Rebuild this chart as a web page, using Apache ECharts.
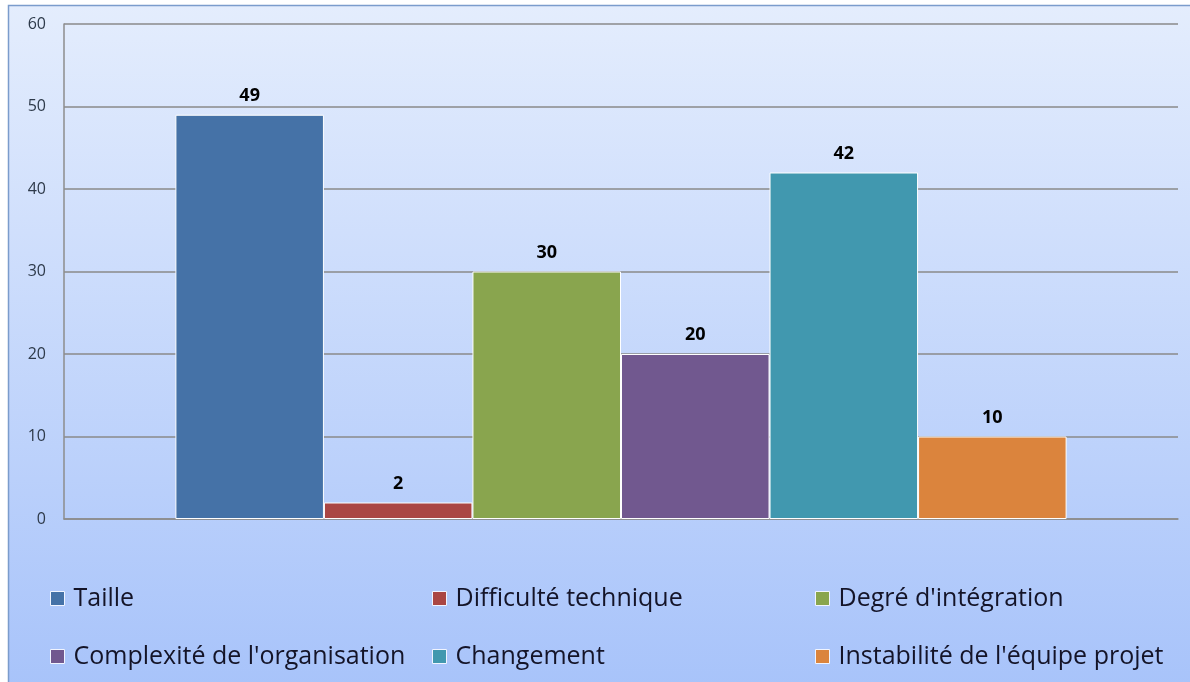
<!DOCTYPE html>
<html>
<head>
<meta charset="utf-8">
<script src="https://cdn.jsdelivr.net/npm/echarts@6/dist/echarts.min.js"></script>
<style>
html,body{margin:0;padding:0;background:#fff;}
#chart{width:1190px;height:682px;}
</style>
</head>
<body>
<div id="chart"></div>
<script>
const categories = [''];
const seriesNames = ['Taille', 'Difficulté technique', "Degré d'intégration", "Complexité de l'organisation", 'Changement', "Instabilité de l'équipe projet"];
const seriesValues = [49, 2, 30, 20, 42, 10];
const seriesColors = ['#4572a7', '#aa4643', '#89a54e', '#71588f', '#4198af', '#db843d'];
const yTicks = { min: 0, max: 60, interval: 10 };

const chart = echarts.init(document.getElementById('chart'));

const legendPos = [
  { left: 50, top: 586 }, { left: 432, top: 586 }, { left: 815, top: 586 },
  { left: 50, top: 644 }, { left: 432, top: 644 }, { left: 815, top: 644 }
];

const option = {
  backgroundColor: '#ffffff',
  animation: false,
  graphic: [{
    type: 'rect',
    z: -10,
    silent: true,
    shape: { x: 8.5, y: 5.5, width: 1200, height: 700 },
    style: {
      fill: new echarts.graphic.LinearGradient(0, 0, 0, 1, [
        { offset: 0, color: '#e4edfd' },
        { offset: 1, color: '#a6c2fa' }
      ]),
      stroke: '#7b9ccc',
      lineWidth: 1.5
    }
  }],
  grid: { left: 64, top: 24, right: 12, bottom: 163, containLabel: false },
  xAxis: {
    type: 'category',
    data: categories,
    axisLine: { show: true, lineStyle: { color: '#8c8c8c', width: 1.5 } },
    axisTick: { show: false },
    axisLabel: { show: false },
    splitLine: { show: false }
  },
  yAxis: {
    type: 'value',
    min: yTicks.min, max: yTicks.max, interval: yTicks.interval,
    axisLine: { show: true, lineStyle: { color: '#8c8c8c', width: 1.5 } },
    axisTick: { show: false },
    axisLabel: { color: '#2e3a4a', fontSize: 16, fontFamily: 'Open Sans', margin: 18 },
    splitLine: { show: true, lineStyle: { color: '#8a8a8a', width: 1.5 } }
  },
  legend: seriesNames.map((n, i) => ({
    data: [n],
    left: legendPos[i].left,
    top: legendPos[i].top,
    padding: 0,
    icon: 'rect',
    itemWidth: 14,
    itemHeight: 14,
    selectedMode: false,
    itemStyle: { borderColor: '#f0f4ff', borderWidth: 1 },
    textStyle: { fontSize: 25, fontFamily: 'Open Sans', color: '#141428', padding: [0, 0, 0, 4] }
  })),
  series: seriesNames.map((n, i) => ({
    name: n,
    type: 'bar',
    data: [seriesValues[i]],
    barGap: '0%',
    barCategoryGap: '20%',
    itemStyle: { color: seriesColors[i], borderColor: '#ffffff', borderWidth: 1 },
    label: {
      show: true, position: 'top', distance: 10,
      fontWeight: 'bold', fontSize: 18, fontFamily: 'Open Sans', color: '#000'
    }
  }))
};
chart.setOption(option);
</script>
</body>
</html>
